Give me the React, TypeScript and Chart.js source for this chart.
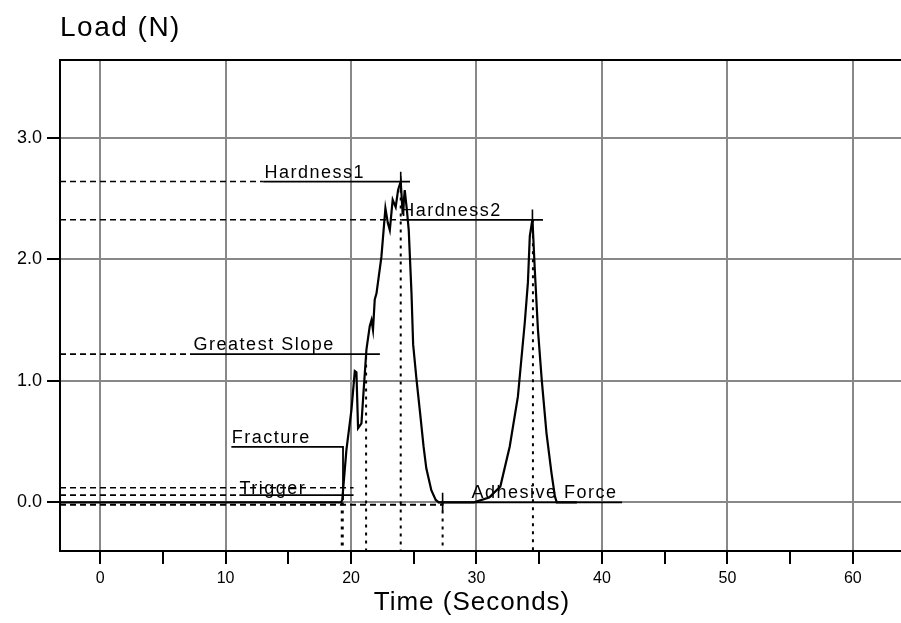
import React, { useEffect, useRef } from "react";
import { Chart, registerables } from "chart.js";

Chart.register(...registerables);

// ---- Data ----
const curveTime = [-3.2, 19.2, 19.3, 19.63, 20.03, 20.3, 20.43, 20.56, 20.83, 21.01, 21.23, 21.49, 21.63, 21.75, 21.89, 22.03, 22.42, 22.74, 22.93, 23.09, 23.32, 23.56, 23.75, 23.96, 24.12, 24.28, 24.44, 24.6, 24.82, 24.95, 25.22, 25.5, 25.78, 26.0, 26.4, 26.75, 27.0, 29.8, 31.0, 31.9, 32.65, 33.3, 33.85, 34.1, 34.25, 34.46, 34.65, 34.9, 35.2, 35.58, 35.98, 36.25, 36.4, 38.0];
const curveLoad = [0, 0, 0.02, 0.43, 0.76, 1.08, 1.07, 0.61, 0.65, 0.93, 1.26, 1.45, 1.5, 1.42, 1.67, 1.72, 2.02, 2.42, 2.3, 2.24, 2.49, 2.43, 2.57, 2.64, 2.37, 2.57, 2.42, 2.24, 1.72, 1.3, 1.01, 0.74, 0.46, 0.28, 0.1, 0.02, 0, 0, 0.04, 0.13, 0.46, 0.87, 1.48, 1.81, 2.19, 2.33, 1.91, 1.42, 1.01, 0.57, 0.24, 0.05, 0, 0];

// Marker names and levels
const markerNames = ["Hardness1", "Hardness2", "Greatest Slope", "Fracture", "Trigger", "Adhesive Force"];
const markerLevel = [2.64, 2.325, 1.22, 0.457, 0.06, 0];
const markerLabelStart = [13.1, 24.0, 7.45, 10.5, 11.1, 29.6];
const markerDashEnd = [13.0, 24.0, 7.4, null, 11.1, null];
const markerSolidStart = [13.0, 24.0, 7.4, 10.46, 11.1, 26.9];
const markerSolidEnd = [24.7, 35.3, 22.3, 19.36, 20.2, 41.6];

// Extra trigger dashed level and the dashed baseline
const triggerUpperLevel = 0.12;
const triggerUpperEnd = 20.2;
const baselineLevel = -0.02;
const baselineEnd = 27.3;

// Vertical dotted drop lines: time, top load
const dropTime = [19.3, 21.2, 23.96, 27.3, 34.5];
const dropTop = [0, 1.2, 2.64, 0, 2.33];
const dropWidth = [3, 2, 2, 2, 2];

// Short solid marker ticks: time, from, to
const tickTime = [23.96, 34.46, 27.3];
const tickFrom = [2.72, 2.41, 0.08];
const tickTo = [2.55, 2.26, -0.07];

const xTicks = [0, 5, 10, 15, 20, 25, 30, 35, 40, 45, 50, 55, 60];
const yTicks = [0, 1, 2, 3];
const X_MIN = -3.2;
const X_MAX = 63.84;
const Y_MIN = -0.4;
const Y_MAX = 3.64;

const FONT = "'Liberation Sans', Arial, sans-serif";

const line = (pts: { x: number; y: number }[], opts: any = {}) => ({
  data: pts,
  borderColor: "#000",
  borderWidth: 1.6,
  pointRadius: 0,
  fill: false,
  tension: 0,
  ...opts,
});

const labelPlugin = {
  id: "labels",
  beforeDatasetsDraw(chart: any) {
    const { ctx, scales } = chart;
    const xs = scales.x, ys = scales.y;
    ctx.save();
    ctx.fillStyle = "#000";
    ctx.font = `18px ${FONT}`;
    (ctx as any).letterSpacing = "1.5px";
    ctx.textAlign = "left";
    ctx.textBaseline = "alphabetic";
    markerNames.forEach((name, i) => {
      const off = name === "Trigger" ? 1 : 4;
      ctx.fillText(name, xs.getPixelForValue(markerLabelStart[i]), ys.getPixelForValue(markerLevel[i]) - off);
    });
    ctx.restore();
  },
  afterDraw(chart: any) {
    const { ctx, chartArea } = chart;
    ctx.save();
    ctx.strokeStyle = "#000";
    ctx.lineWidth = 2;
    ctx.beginPath();
    ctx.moveTo(chartArea.left, chartArea.top);
    ctx.lineTo(chartArea.right, chartArea.top);
    ctx.stroke();
    ctx.fillStyle = "#000";
    ctx.font = `28px ${FONT}`;
    (ctx as any).letterSpacing = "1.5px";
    ctx.textAlign = "left";
    ctx.textBaseline = "alphabetic";
    ctx.fillText("Load (N)", 60, 36);
    ctx.font = `26px ${FONT}`;
    (ctx as any).letterSpacing = "1px";
    ctx.textAlign = "center";
    ctx.textBaseline = "middle";
    ctx.fillText("Time (Seconds)", 472, 603);
    ctx.restore();
  },
};

export default function App() {
  const ref = useRef<HTMLCanvasElement>(null);
  useEffect(() => {
    if (!ref.current) return;
    const datasets: any[] = [];
    // dashed baseline
    datasets.push(line([{ x: X_MIN, y: baselineLevel }, { x: baselineEnd, y: baselineLevel }], { borderDash: [6, 4], borderWidth: 2 }));
    // trigger upper dashed
    datasets.push(line([{ x: X_MIN, y: triggerUpperLevel }, { x: triggerUpperEnd, y: triggerUpperLevel }], { borderDash: [6, 4], borderWidth: 1.6 }));
    // marker lines
    markerNames.forEach((_, i) => {
      const lvl = markerLevel[i];
      const de = markerDashEnd[i];
      if (de !== null) {
        datasets.push(line([{ x: X_MIN, y: lvl }, { x: de, y: lvl }], { borderDash: [6, 4], borderWidth: 1.6 }));
      }
      const pts = [{ x: markerSolidStart[i], y: lvl }, { x: markerSolidEnd[i], y: lvl }];
      if (markerNames[i] === "Fracture") pts.push({ x: markerSolidEnd[i], y: 0.02 });
      datasets.push(line(pts, { borderWidth: 1.8 }));
    });
    // dotted drop lines
    dropTime.forEach((t, i) => {
      datasets.push(line([{ x: t, y: dropTop[i] }, { x: t, y: Y_MIN }], { borderDash: [3, 5], borderWidth: dropWidth[i] }));
    });
    // marker ticks
    tickTime.forEach((t, i) => {
      datasets.push(line([{ x: t, y: tickFrom[i] }, { x: t, y: tickTo[i] }], { borderWidth: 1.6 }));
    });
    // main curve
    datasets.push(line(curveTime.map((t, i) => ({ x: t, y: curveLoad[i] })), { borderWidth: 2.2 }));

    const chart = new Chart(ref.current, {
      type: "line",
      data: { datasets },
      options: {
        animation: false,
        responsive: false,
        maintainAspectRatio: false,
        parsing: false,
        normalized: true,
        layout: { padding: { top: 60, right: 0, left: 0, bottom: 0 } },
        plugins: { legend: { display: false }, tooltip: { enabled: false }, title: { display: false } },
        scales: {
          x: {
            type: "linear",
            min: X_MIN,
            max: X_MAX,
            afterBuildTicks: (s: any) => { s.ticks = xTicks.map((v) => ({ value: v })); },
            afterFit: (s: any) => { s.height = 72; },
            grid: {
              color: (c: any) => (c.tick && c.tick.value % 10 === 0 ? "#888888" : "rgba(0,0,0,0)"),
              lineWidth: 2,
              tickColor: "#000",
              tickLength: 13,
              drawTicks: true,
            },
            border: { display: true, color: "#000", width: 2 },
            ticks: {
              color: "#000",
              font: { family: FONT, size: 16 },
              padding: 5,
              maxRotation: 0,
              autoSkip: false,
              callback: (v: any) => (Number(v) % 10 === 0 ? String(v) : ""),
            },
          },
          y: {
            type: "linear",
            min: Y_MIN,
            max: Y_MAX,
            afterBuildTicks: (s: any) => { s.ticks = yTicks.map((v) => ({ value: v })); },
            afterFit: (s: any) => { s.width = 60; },
            grid: {
              color: "#888888",
              lineWidth: 2,
              tickColor: "#000",
              tickLength: 13,
              drawTicks: true,
            },
            border: { display: true, color: "#000", width: 2 },
            ticks: {
              color: "#000",
              font: { family: FONT, size: 18 },
              padding: 5,
              callback: (v: any) => Number(v).toFixed(1),
            },
          },
        },
      },
      plugins: [labelPlugin],
    } as any);
    return () => chart.destroy();
  }, []);
  return (
    <div style={{ position: "fixed", left: 0, top: 0, width: 901, height: 623, background: "#fff" }}>
      <canvas ref={ref} width={901} height={623} style={{ display: "block" }} />
    </div>
  );
}
